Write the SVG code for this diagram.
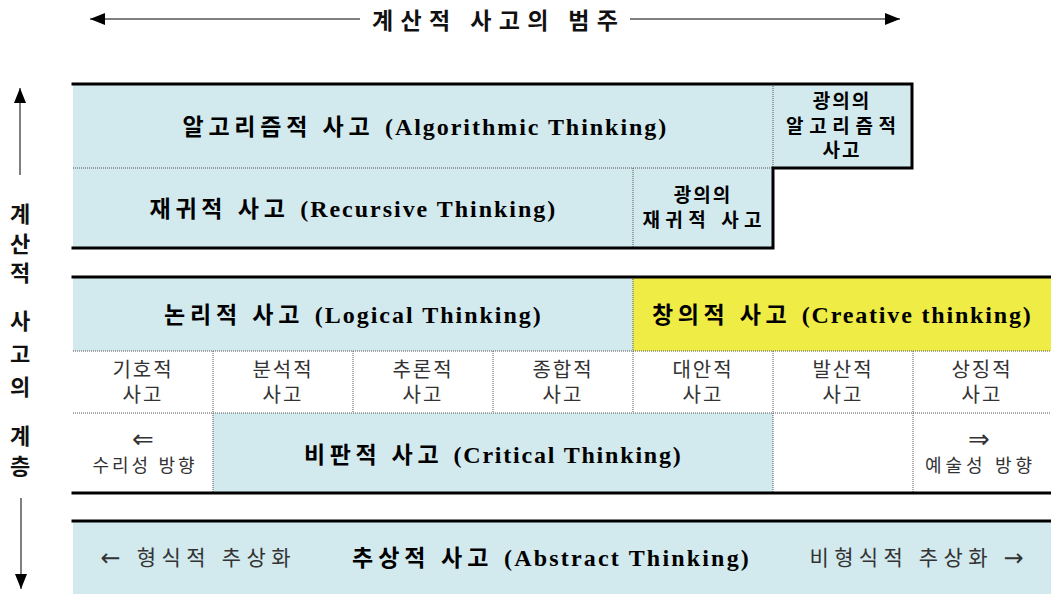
<svg xmlns="http://www.w3.org/2000/svg" width="1051" height="594" viewBox="0 0 1051 594">
  <style>
    .blue { fill: #d2e9ee; }
    .yellow { fill: #eeec45; }
    .white { fill: #ffffff; }
    .thick { stroke: #000; stroke-width: 3; fill: none; stroke-linecap: square; }
    .dot { stroke: #555; stroke-width: 1; stroke-dasharray: 1 1; fill: none; }
    .t { font-family: "Liberation Serif", "Noto Sans CJK KR", serif; dominant-baseline: central; text-anchor: middle; }
    .big { font-weight: bold; fill: #000; }
    .ko { font-size: 23px; letter-spacing: 4px; }
    .en { font-size: 24px; letter-spacing: 1.2px; }
    .mid { font-size: 19px; font-weight: bold; fill: #000; letter-spacing: 2px; }
    .small { font-size: 20px; fill: #333; letter-spacing: 2px; }
    .note { font-size: 18px; fill: #333; letter-spacing: 1px; }
    .dbl { font-family: "DejaVu Sans", sans-serif; font-size: 26px; fill: #333; dominant-baseline: central; text-anchor: middle; }
    .low { font-size: 21px; fill: #333; letter-spacing: 3px; }
    .sym { font-family: "DejaVu Sans", sans-serif; font-size: 24px; }
    .title { font-family: "Noto Sans CJK KR", sans-serif; font-size: 23px; font-weight: bold; fill: #111; dominant-baseline: central; text-anchor: middle; }
    .side { font-family: "Noto Sans CJK KR", sans-serif; font-size: 22px; font-weight: bold; fill: #111; dominant-baseline: central; text-anchor: middle; }
    .arr { stroke: #000; stroke-width: 1.2; fill: none; }
    .varr { stroke: #555; stroke-width: 1.5; fill: none; }
  </style>
  <defs>
    <marker id="head" markerUnits="userSpaceOnUse" markerWidth="16" markerHeight="12" refX="15" refY="6" orient="auto-start-reverse">
      <path d="M0,0 L15,6 L0,12 Z" fill="#000"/>
    </marker>
  </defs>

  <g id="title">
    <text class="title" x="495" y="19" textLength="246" lengthAdjust="spacing">계산적 사고의 범주</text>
  </g>

  <g id="side-label">
    <text class="side" x="20" y="212">계</text>
    <text class="side" x="20" y="242">산</text>
    <text class="side" x="20" y="271">적</text>
    <text class="side" x="20" y="319">사</text>
    <text class="side" x="20" y="352">고</text>
    <text class="side" x="20" y="385">의</text>
    <text class="side" x="20" y="434">계</text>
    <text class="side" x="20" y="464">층</text>
  </g>

  <g id="connectors">
    <line class="arr" x1="360" y1="19" x2="90" y2="19" marker-end="url(#head)"/>
    <line class="arr" x1="630" y1="19" x2="900" y2="19" marker-end="url(#head)"/>
    <line class="varr" x1="20" y1="175" x2="20" y2="88" marker-end="url(#head)"/>
    <line class="varr" x1="21" y1="498" x2="21" y2="589" marker-end="url(#head)"/>
  </g>

  <!-- Block 1 -->
  <g id="algorithmic">
    <rect class="blue" x="73" y="84" width="700" height="84"/>
    <text class="t big" x="425" y="127" textLength="485" lengthAdjust="spacing"><tspan class="ko">알고리즘적 사고 </tspan><tspan class="en">(Algorithmic Thinking)</tspan></text>
  </g>
  <g id="broad-algorithmic">
    <rect class="blue" x="773" y="84" width="139" height="84"/>
    <text class="t mid" x="842" y="101">광의의</text>
    <text class="t mid" x="842" y="126" textLength="112" lengthAdjust="spacing">알고리즘적</text>
    <text class="t mid" x="842" y="150">사고</text>
  </g>
  <g id="recursive">
    <rect class="blue" x="73" y="168" width="560" height="80"/>
    <text class="t big" x="353" y="209" textLength="407" lengthAdjust="spacing"><tspan class="ko">재귀적 사고 </tspan><tspan class="en">(Recursive Thinking)</tspan></text>
  </g>
  <g id="broad-recursive">
    <rect class="blue" x="633" y="168" width="140" height="80"/>
    <text class="t mid" x="703" y="195">광의의</text>
    <text class="t mid" x="703" y="220" textLength="121" lengthAdjust="spacing">재귀적 사고</text>
  </g>
  <g id="block1-lines">
    <line class="dot" x1="73" y1="168" x2="773" y2="168"/>
    <line class="dot" x1="773" y1="84" x2="773" y2="168"/>
    <line class="dot" x1="633" y1="168" x2="633" y2="248"/>
    <polyline class="thick" points="73,84 912,84 912,168 773,168 773,248 73,248"/>
  </g>

  <!-- Block 2 -->
  <g id="logical">
    <rect class="blue" x="73" y="277" width="560" height="74"/>
    <text class="t big" x="353" y="315" textLength="378" lengthAdjust="spacing"><tspan class="ko">논리적 사고 </tspan><tspan class="en">(Logical Thinking)</tspan></text>
  </g>
  <g id="creative">
    <rect class="yellow" x="633" y="277" width="418" height="74"/>
    <text class="t big" x="842" y="315" textLength="380" lengthAdjust="spacing"><tspan class="ko">창의적 사고 </tspan><tspan class="en">(Creative thinking)</tspan></text>
  </g>
  <g id="sub-cells">
    <rect class="white" x="73" y="351" width="978" height="62"/>
    <g id="symbolic"><text class="t small" x="143" y="370">기호적</text><text class="t small" x="143" y="395">사고</text></g>
    <g id="analytic"><text class="t small" x="283" y="370">분석적</text><text class="t small" x="283" y="395">사고</text></g>
    <g id="inferential"><text class="t small" x="423" y="370">추론적</text><text class="t small" x="423" y="395">사고</text></g>
    <g id="synthetic"><text class="t small" x="563" y="370">종합적</text><text class="t small" x="563" y="395">사고</text></g>
    <g id="alternative"><text class="t small" x="703" y="370">대안적</text><text class="t small" x="703" y="395">사고</text></g>
    <g id="divergent"><text class="t small" x="843" y="370">발산적</text><text class="t small" x="843" y="395">사고</text></g>
    <g id="symbolic-art"><text class="t small" x="982" y="370">상징적</text><text class="t small" x="982" y="395">사고</text></g>
  </g>
  <g id="math-direction">
    <rect class="white" x="73" y="413" width="140" height="80"/>
    <text class="dbl" x="143" y="439">⇐</text>
    <text class="t note" x="144" y="466" textLength="103" lengthAdjust="spacing">수리성 방향</text>
  </g>
  <g id="critical">
    <rect class="blue" x="213" y="413" width="560" height="80"/>
    <text class="t big" x="493" y="455" textLength="378" lengthAdjust="spacing"><tspan class="ko">비판적 사고 </tspan><tspan class="en">(Critical Thinking)</tspan></text>
  </g>
  <g id="art-direction">
    <rect class="white" x="913" y="413" width="138" height="80"/>
    <text class="dbl" x="979" y="439">⇒</text>
    <text class="t note" x="979" y="466" textLength="108" lengthAdjust="spacing">예술성 방향</text>
  </g>
  <g id="block2-lines">
    <line class="dot" x1="633" y1="277" x2="633" y2="351"/>
    <line class="dot" x1="73" y1="351" x2="1051" y2="351"/>
    <line class="dot" x1="73" y1="413" x2="1051" y2="413"/>
    <line class="dot" x1="213" y1="351" x2="213" y2="493"/>
    <line class="dot" x1="353" y1="351" x2="353" y2="413"/>
    <line class="dot" x1="493" y1="351" x2="493" y2="413"/>
    <line class="dot" x1="633" y1="351" x2="633" y2="413"/>
    <line class="dot" x1="773" y1="351" x2="773" y2="493"/>
    <line class="dot" x1="913" y1="351" x2="913" y2="493"/>
    <line class="thick" x1="73" y1="277" x2="1051" y2="277"/>
    <line class="thick" x1="73" y1="493" x2="1051" y2="493"/>
  </g>

  <!-- Block 3 -->
  <g id="abstract">
    <rect class="blue" x="73" y="521" width="978" height="73"/>
    <line class="thick" x1="73" y1="521" x2="1051" y2="521"/>
    <text class="t low" x="197" y="558" textLength="193" lengthAdjust="spacing"><tspan class="sym">←</tspan> 형식적 추상화</text>
    <text class="t big" x="551" y="558" textLength="398" lengthAdjust="spacing"><tspan class="ko">추상적 사고 </tspan><tspan class="en">(Abstract Thinking)</tspan></text>
    <text class="t low" x="918" y="558" textLength="217" lengthAdjust="spacing">비형식적 추상화 <tspan class="sym">→</tspan></text>
  </g>
</svg>
